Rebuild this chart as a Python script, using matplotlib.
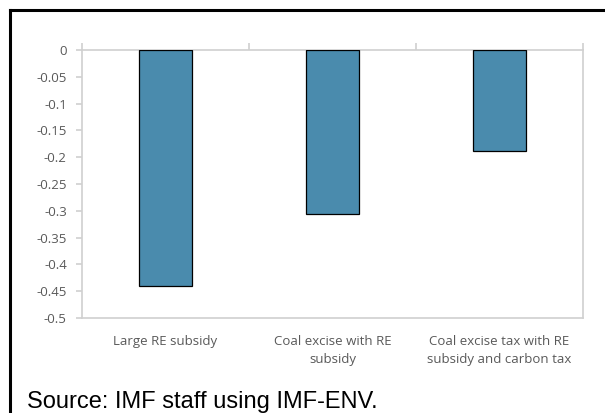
import matplotlib.pyplot as plt
from matplotlib.lines import Line2D

# datos
categorias = ['Large RE subsidy', 'Coal excise with RE\nsubsidy',
              'Coal excise tax with RE\nsubsidy and carbon tax']
valores = [-0.44, -0.306, -0.188]
yticks = [0, -0.05, -0.1, -0.15, -0.2, -0.25, -0.3, -0.35, -0.4, -0.45, -0.5]
ytick_labels = ['0', '-0.05', '-0.1', '-0.15', '-0.2', '-0.25', '-0.3',
                '-0.35', '-0.4', '-0.45', '-0.5']
fuente = 'Source: IMF staff using IMF-ENV.'

gris = '#595959'
borde = '#d0d0d0'

fig = plt.figure(figsize=(6.05, 4.13), dpi=100)
ax = fig.add_axes([82 / 605, 1 - 318 / 413, 501 / 605, 268 / 413])

x = range(len(categorias))
ax.bar(x, valores, width=0.32, color='#4A8BAD', edgecolor='black', linewidth=0.9, zorder=3)

ax.set_xlim(-0.5, 2.5)
ax.set_ylim(-0.5, 0)
ax.set_yticks(yticks)
ax.set_yticklabels(ytick_labels)
ax.set_xticks(list(x))
ax.set_xticklabels(categorias, linespacing=1.55)
ax.set_xticks([-0.5, 0.5, 1.5, 2.5], minor=True)

for s in ax.spines.values():
    s.set_color(borde)
    s.set_linewidth(1.2)

ax.tick_params(axis='y', colors=borde, labelcolor=gris, length=4, width=1.2,
               labelsize=9.5, pad=7)
ax.tick_params(axis='x', which='major', length=0, labelcolor=gris, labelsize=9.5, pad=12)
ax.tick_params(axis='x', which='minor', bottom=False, top=True, length=5,
               width=1.2, color=borde, direction='out')
for t in ax.get_xticklabels() + ax.get_yticklabels():
    t.set_fontfamily('Open Sans')

# marco exterior
fig.add_artist(Line2D([10 / 605, 10 / 605], [0, 1 - 10 / 413], color='black', lw=2.2,
                      transform=fig.transFigure))
fig.add_artist(Line2D([10 / 605, 1], [1 - 10 / 413, 1 - 10 / 413], color='black', lw=2.2,
                      transform=fig.transFigure))

fig.text(27 / 605, 1 - 408 / 413, fuente, fontsize=17, family='Liberation Sans',
         va='baseline', ha='left', color='black')

plt.savefig('out.png', dpi=100)
